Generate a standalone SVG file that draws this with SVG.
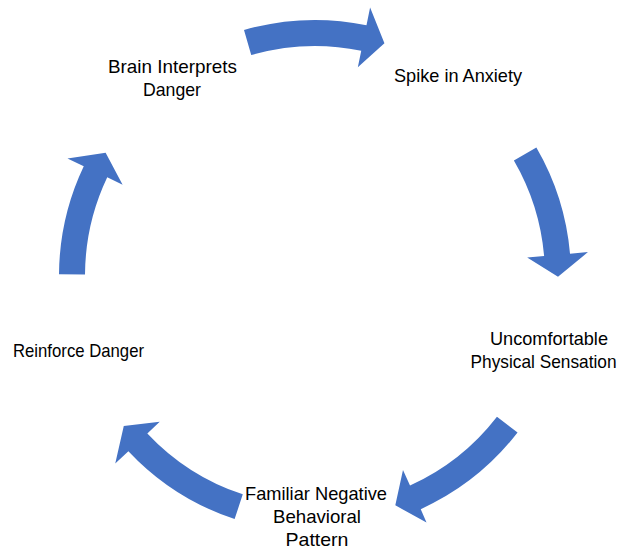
<svg xmlns="http://www.w3.org/2000/svg" width="626" height="550" viewBox="0 0 626 550">
<style>
.lbl{font-family:"Liberation Sans",Arial,sans-serif;font-size:18.5px;fill:#000;text-anchor:middle}
.arr{fill:#4472C4;stroke:none}
</style>
<rect width="626" height="550" fill="#fff"/>
<g id="connectors">
<path class="arr" d="M244.0,30.04 A256,256 0 0 1 366.48,25.22 L370.10,7.59 L384.43,43.13 L357.83,67.35 L361.25,50.69 A230,230 0 0 0 251.22,55.02 Z"/>
<path class="arr" d="M536.36,147.41 A256,256 0 0 1 570.02,253.69 L587.96,252.12 L558.0,276.85 L527.19,257.44 L544.12,255.95 A230,230 0 0 0 513.88,160.47 Z"/>
<path class="arr" d="M517.55,432.54 A256,256 0 0 1 420.75,509.14 L426.5,522.5 L395.31,505.34 L402.99,469.98 L410.01,485.46 A230,230 0 0 0 496.98,416.65 Z"/>
<path class="arr" d="M234.62,519.05 A256,256 0 0 1 128.38,451.23 L115.25,463.55 L123.78,425.93 L159.72,421.80 L147.33,433.44 A230,230 0 0 0 242.78,494.36 Z"/>
<path class="arr" d="M59.0,274.21 A256,256 0 0 1 83.76,166.20 L67.50,158.48 L105.63,152.68 L122.60,184.64 L107.24,177.35 A230,230 0 0 0 85.0,274.39 Z"/>
</g>
<g id="node-brain">
<text class="lbl" x="172.5" y="73" textLength="129" lengthAdjust="spacingAndGlyphs">Brain Interprets</text>
<text class="lbl" x="172" y="96" textLength="58" lengthAdjust="spacingAndGlyphs">Danger</text>
</g>
<g id="node-spike">
<text class="lbl" x="458" y="82" textLength="128" lengthAdjust="spacingAndGlyphs">Spike in Anxiety</text>
</g>
<g id="node-uncomfortable">
<text class="lbl" x="549" y="345" textLength="118" lengthAdjust="spacingAndGlyphs">Uncomfortable</text>
<text class="lbl" x="543.5" y="368" textLength="146" lengthAdjust="spacingAndGlyphs">Physical Sensation</text>
</g>
<g id="node-familiar">
<text class="lbl" x="316" y="500" textLength="142" lengthAdjust="spacingAndGlyphs">Familiar Negative</text>
<text class="lbl" x="317" y="523" textLength="88" lengthAdjust="spacingAndGlyphs">Behavioral</text>
<text class="lbl" x="317" y="546" textLength="63" lengthAdjust="spacingAndGlyphs">Pattern</text>
</g>
<g id="node-reinforce">
<text class="lbl" x="78.5" y="357" textLength="131" lengthAdjust="spacingAndGlyphs">Reinforce Danger</text>
</g>
</svg>
